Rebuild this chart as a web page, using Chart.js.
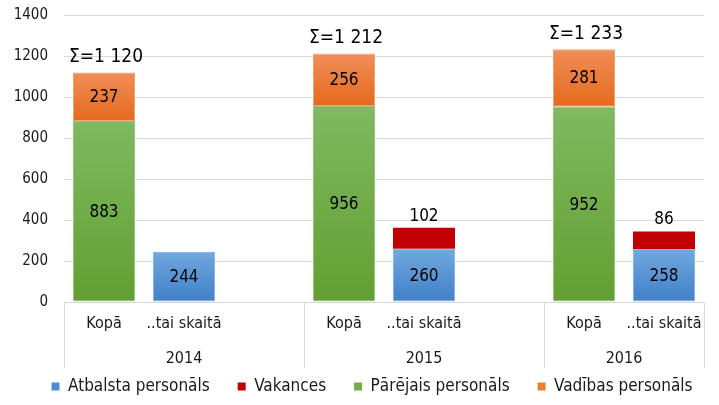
<!DOCTYPE html>
<html>
<head>
<meta charset="utf-8">
<script src="https://cdn.jsdelivr.net/npm/chart.js@4/dist/chart.umd.min.js"></script>
<style>
html,body{margin:0;padding:0;background:#fff;}
#wrap{width:719px;height:405px;position:relative;}
</style>
</head>
<body>
<div id="wrap"><canvas id="c" width="719" height="405"></canvas></div>
<script>
// ---- data ----
const categories = ['Kopā', '..tai skaitā', '', 'Kopā', '..tai skaitā', '', 'Kopā', '..tai skaitā'];
const years = ['2014', '2015', '2016'];
const yearStart = [0, 3, 6];
const yearEnd = [2, 5, 7];
const atbalsta = [null, 244, null, null, 260, null, null, 258];
const vakances = [null, null, null, null, 102, null, null, 86];
const parejais = [883, null, null, 956, null, null, 952, null];
const vadibas = [237, null, null, 256, null, null, 281, null];
const seriesNames = ['Atbalsta personāls', 'Vakances', 'Pārējais personāls', 'Vadības personāls'];
const yTicks = [0, 200, 400, 600, 800, 1000, 1200, 1400];

const FONT = "'DejaVu Sans Condensed', 'DejaVu Sans', sans-serif";
const LEGEND_PAD = 28;

function grad(top, bottom, baseArr) {
  return function(c) {
    const chart = c.chart;
    const y = chart.scales && chart.scales.y;
    const v = c.raw;
    if (!y || v == null) return bottom;
    const base = baseArr ? (baseArr[c.dataIndex] || 0) : 0;
    const y0 = y.getPixelForValue(base + v);
    const y1 = y.getPixelForValue(base);
    if (!isFinite(y0) || !isFinite(y1) || y0 === y1) return bottom;
    const g = chart.ctx.createLinearGradient(0, y0, 0, y1);
    g.addColorStop(0, top);
    g.addColorStop(1, bottom);
    return g;
  };
}

const labelPlugin = {
  id: 'labels',
  afterDatasetsDraw(chart) {
    const ctx = chart.ctx;
    ctx.save();
    ctx.fillStyle = '#000';
    ctx.textAlign = 'center';
    ctx.textBaseline = 'middle';
    [0, 2, 3].forEach(di => {
      const meta = chart.getDatasetMeta(di);
      meta.data.forEach((bar, i) => {
        const v = chart.data.datasets[di].data[i];
        if (v == null) return;
        ctx.font = '17px ' + FONT;
        ctx.fillText(String(v), bar.x, (bar.y + bar.base) / 2 + 1);
      });
    });
    const m1 = chart.getDatasetMeta(1);
    m1.data.forEach((bar, i) => {
      const v = vakances[i];
      if (v == null) return;
      ctx.font = '17px ' + FONT;
      ctx.textBaseline = 'bottom';
      ctx.fillText(String(v), bar.x, bar.y - 3);
    });
    const m3 = chart.getDatasetMeta(3);
    m3.data.forEach((bar, i) => {
      if (parejais[i] == null) return;
      const s = parejais[i] + (vadibas[i] || 0);
      const txt = 'Σ=' + String(s).replace(/\B(?=(\d{3})+(?!\d))/g, ' ');
      ctx.font = '19px ' + FONT;
      ctx.textBaseline = 'bottom';
      ctx.fillText(txt, bar.x + 2, bar.y - 6);
    });
    ctx.restore();
  }
};

const groupAxisPlugin = {
  id: 'groupAxis',
  afterLayout(chart) {
    if (chart.legend) { chart.legend.left += 20; chart.legend.right += 20; }
  },
  afterDraw(chart) {
    const ctx = chart.ctx;
    const x = chart.scales.x;
    const area = chart.chartArea;
    const step = x.getPixelForValue(1) - x.getPixelForValue(0);
    ctx.save();
    ctx.strokeStyle = '#d9d9d9';
    ctx.lineWidth = 1;
    const edges = [];
    yearStart.forEach(s => edges.push(x.getPixelForValue(s) - step / 2));
    edges.push(x.getPixelForValue(yearEnd[yearEnd.length - 1]) + step / 2);
    edges.forEach(px => {
      const p = Math.round(px) + 0.5;
      ctx.beginPath();
      ctx.moveTo(p, area.bottom);
      ctx.lineTo(p, area.bottom + 66);
      ctx.stroke();
    });
    ctx.fillStyle = '#1a1a1a';
    ctx.font = '16px ' + FONT;
    ctx.textAlign = 'center';
    ctx.textBaseline = 'middle';
    years.forEach((yr, k) => {
      const a = x.getPixelForValue(yearStart[k]) - step / 2;
      const b = x.getPixelForValue(yearEnd[k]) + step / 2;
      ctx.fillText(yr, (a + b) / 2, area.bottom + 57);
    });
    ctx.restore();
  }
};

new Chart(document.getElementById('c'), {
  type: 'bar',
  data: {
    labels: categories,
    datasets: [
      { label: seriesNames[0], data: atbalsta, backgroundColor: grad('#71a8de', '#3f80c8', null), borderColor: '#8ab8e4', borderWidth: 1, legendColor: '#4a8fd6' },
      { label: seriesNames[1], data: vakances, backgroundColor: '#c00000', borderColor: '#c00000', borderWidth: 0, legendColor: '#c00000' },
      { label: seriesNames[2], data: parejais, backgroundColor: grad('#80b961', '#619f31', null), borderColor: '#96c67a', borderWidth: 1, legendColor: '#70ad47' },
      { label: seriesNames[3], data: vadibas, backgroundColor: grad('#f18d59', '#e46a1c', parejais), borderColor: '#f3a075', borderWidth: 1, legendColor: '#ed7d31' }
    ]
  },
  options: {
    responsive: false,
    animation: false,
    devicePixelRatio: 1,
    layout: { padding: { top: 6, right: 15, left: 0, bottom: 0 } },
    datasets: { bar: { barPercentage: 0.775, categoryPercentage: 1, borderSkipped: false } },
    scales: {
      x: {
        stacked: true,
        grid: { display: false },
        border: { display: false },
        ticks: { color: '#1a1a1a', font: { family: FONT, size: 16 }, padding: 4, maxRotation: 0, autoSkip: false },
        afterFit(s) { s.height = 104 - LEGEND_PAD - 28; }
      },
      y: {
        stacked: true,
        min: 0, max: 1400,
        afterBuildTicks(s) { s.ticks = yTicks.map(v => ({ value: v })); },
        grid: { color: '#d9d9d9', drawTicks: true, tickLength: 10, tickColor: 'rgba(0,0,0,0)' },
        border: { display: false },
        ticks: { color: '#1a1a1a', font: { family: FONT, size: 15 }, padding: 6, callback: v => String(v) },
        afterFit(s) { s.width = 64; }
      }
    },
    plugins: {
      tooltip: { enabled: false },
      legend: {
        position: 'bottom',
        labels: {
          color: '#1a1a1a',
          font: { family: FONT, size: 17 },
          boxWidth: 8, boxHeight: 8, padding: LEGEND_PAD,
          generateLabels(chart) {
            return chart.data.datasets.map((d, i) => ({
              text: d.label, fillStyle: d.legendColor, strokeStyle: d.legendColor,
              lineWidth: 0, hidden: false, datasetIndex: i, fontColor: '#1a1a1a'
            }));
          }
        }
      }
    }
  },
  plugins: [labelPlugin, groupAxisPlugin]
});
</script>
</body>
</html>
